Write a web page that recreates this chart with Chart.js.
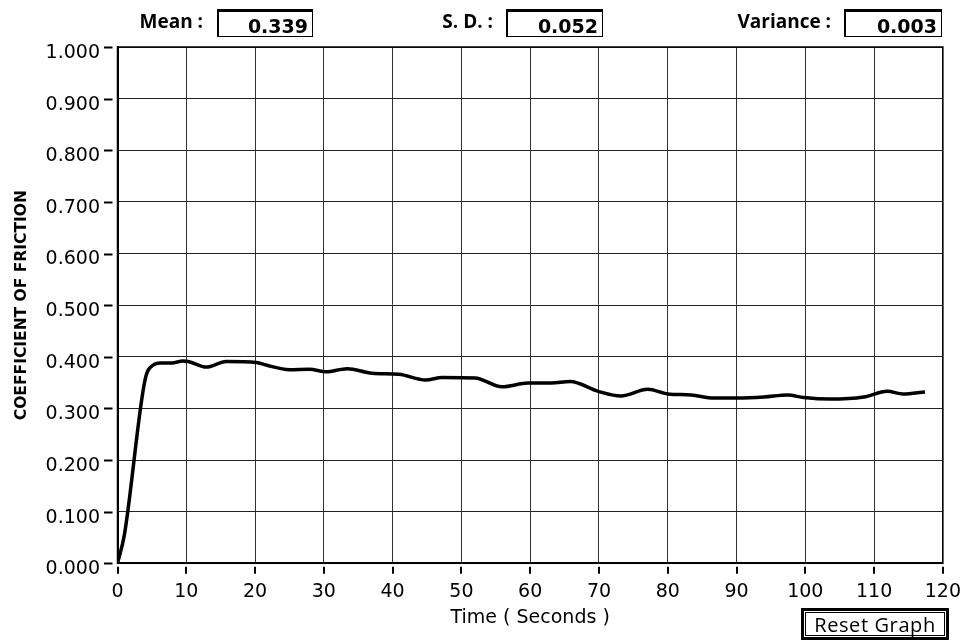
<!DOCTYPE html>
<html>
<head>
<meta charset="utf-8">
<script src="https://cdn.jsdelivr.net/npm/chart.js@4.4.0/dist/chart.umd.min.js"></script>
<style>
html,body{margin:0;padding:0;background:#fff;}
#wrap{position:relative;width:978px;height:640px;overflow:hidden;background:#fff;}
#wrap canvas{position:absolute;left:0;top:0;}
.lbl{position:absolute;top:9px;font:bold 19px "Open Sans";color:#000;text-align:right;white-space:nowrap;width:160px;line-height:24px;}
.box{position:absolute;top:9px;height:28px;box-sizing:border-box;border-top:3px solid #000;border-left:2px solid #000;border-right:1.5px solid #000;border-bottom:1px solid #000;font:bold 19px "DejaVu Sans";color:#000;text-align:right;padding-right:4px;padding-top:3px;line-height:22px;background:#fff;}
.btn{position:absolute;left:801px;top:608px;width:148px;height:32px;box-sizing:border-box;border:3px solid #000;box-shadow:inset 0 0 0 1px #fff,inset 0 0 0 2px #000;font:20px "Open Sans";color:#000;text-align:center;line-height:27px;letter-spacing:0.6px;}
</style>
</head>
<body>
<div id="wrap">
<canvas id="c" width="978" height="640"></canvas>
<div class="lbl" id="lMean" style="left:43px;"></div>
<div class="box" id="bMean" style="left:217px;width:96px;"></div>
<div class="lbl" id="lSD" style="left:333px;"></div>
<div class="box" id="bSD" style="left:506px;width:97px;"></div>
<div class="lbl" id="lVar" style="left:671px;"></div>
<div class="box" id="bVar" style="left:844px;width:98px;"></div>
<div class="btn">Reset Graph</div>
</div>
<script>
// ---- data ----
const timeSec = [0, 1, 4, 5.2, 6.2, 7.9, 9.5, 10.3, 12.9, 15.8,
  20.2, 21.6, 25, 27.9, 30.3, 33.4, 37, 40.9, 44.8, 47.2,
  52, 55.9, 59.7, 63.1, 65.8, 69.9, 73.2, 77.1, 80, 83.4,
  86.7, 90.1, 94, 97.4, 99.8, 103.6, 108.5, 111.9, 114.2, 117.4];
const friction = [0, 0.055, 0.355, 0.384, 0.388, 0.388, 0.392, 0.391, 0.380, 0.391,
  0.389, 0.384, 0.375, 0.376, 0.371, 0.377, 0.368, 0.366, 0.355, 0.360,
  0.359, 0.342, 0.349, 0.349, 0.352, 0.333, 0.324, 0.337, 0.328, 0.326,
  0.320, 0.320, 0.322, 0.326, 0.321, 0.318, 0.322, 0.333, 0.328, 0.332];
const xTickLabels = ['0','10','20','30','40','50','60','70','80','90','100','110','120'];
const yTickLabels = ['0.000','0.100','0.200','0.300','0.400','0.500','0.600','0.700','0.800','0.900','1.000'];
const statLabels = ['Mean :', 'S. D. :', 'Variance :'];
const statValues = ['0.339', '0.052', '0.003'];

['lMean','lSD','lVar'].forEach((id, i) => document.getElementById(id).textContent = statLabels[i]);
['bMean','bSD','bVar'].forEach((id, i) => document.getElementById(id).textContent = statValues[i]);

const framePlugin = {
  id: 'frame',
  beforeDatasetsDraw(chart) {
    const {ctx, chartArea: a} = chart;
    ctx.save();
    ctx.strokeStyle = '#000';
    ctx.lineWidth = 1.5;
    ctx.strokeRect(a.left, a.top, a.right - a.left, a.bottom - a.top);
    ctx.restore();
  },
  afterDraw(chart) {
    const {ctx, chartArea: a, scales} = chart;
    ctx.save();
    ctx.strokeStyle = '#000';
    ctx.lineWidth = 2;
    ctx.beginPath();
    scales.y.ticks.forEach(t => {
      const y = Math.round(scales.y.getPixelForValue(t.value)) + 0.5;
      ctx.moveTo(a.left - 13.5, y); ctx.lineTo(a.left - 5, y);
    });
    scales.x.ticks.forEach(t => {
      const x = Math.round(scales.x.getPixelForValue(t.value));
      ctx.moveTo(x, a.bottom + 3.5); ctx.lineTo(x, a.bottom + 10.5);
    });
    ctx.stroke();
    ctx.restore();
  }
};

new Chart(document.getElementById('c'), {
  type: 'line',
  data: {
    datasets: [{
      data: timeSec.map((t, i) => ({x: t, y: friction[i]})),
      borderColor: '#000',
      borderWidth: 3.5,
      pointRadius: 0,
      fill: false,
      cubicInterpolationMode: 'monotone'
    }]
  },
  options: {
    responsive: false,
    animation: false,
    events: [],
    layout: {padding: {left: 0, top: 47, right: 31.5, bottom: 0}},
    plugins: {legend: {display: false}, tooltip: {enabled: false}},
    scales: {
      x: {
        type: 'linear', min: 0, max: 120,
        afterFit: s => { s.height = 76.7; },
        ticks: {stepSize: 10, padding: 17, color: '#000', maxRotation: 0,
          font: {family: 'DejaVu Sans', size: 19},
          callback: (v, i) => xTickLabels[i]},
        grid: {color: '#333', lineWidth: 1, drawTicks: false},
        border: {display: true, color: '#000', width: 2},
        title: {display: true, text: 'Time ( Seconds )', color: '#000',
          font: {family: 'DejaVu Sans', size: 19}, padding: {top: 0, bottom: 11}}
      },
      y: {
        type: 'linear', min: 0, max: 1,
        afterFit: s => { s.width = 117.5; },
        ticks: {stepSize: 0.1, padding: 17.5, color: '#000', labelOffset: 6,
          font: {family: 'DejaVu Sans', size: 19},
          callback: (v, i) => yTickLabels[i]},
        grid: {color: '#222', lineWidth: 1, drawTicks: false},
        border: {display: true, color: '#000', width: 2},
        title: {display: true, text: 'COEFFICIENT OF FRICTION', color: '#000',
          font: {family: 'DejaVu Sans', size: 15.5, weight: 'bold'}, padding: {top: 13, bottom: 0}}
      }
    }
  },
  plugins: [framePlugin]
});
</script>
</body>
</html>
